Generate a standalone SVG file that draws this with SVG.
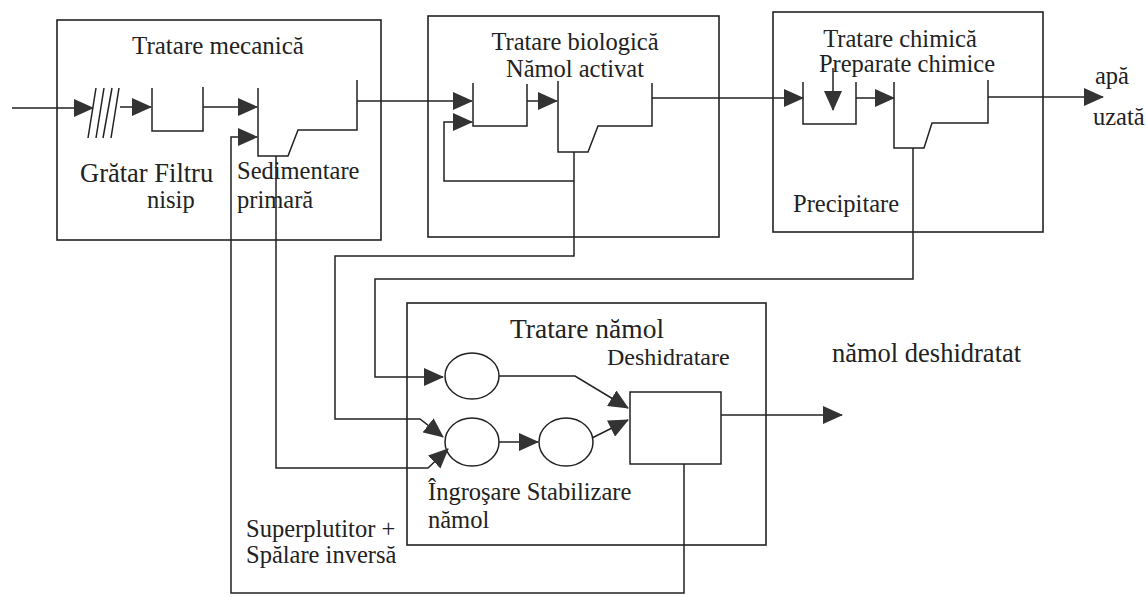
<svg xmlns="http://www.w3.org/2000/svg" width="1146" height="597" viewBox="0 0 1146 597">
<defs>
<style>
.ln{fill:none;stroke:#222;stroke-width:1.5}
.bx{fill:none;stroke:#222;stroke-width:1.6}
.t{font-family:"Liberation Serif","Times New Roman",serif;fill:#222;font-size:24.5px}
.arr{marker-end:url(#ah)}
</style>
<marker id="ah" markerUnits="userSpaceOnUse" markerWidth="20" markerHeight="18" viewBox="0 0 20 18" refX="19" refY="9" orient="auto">
<path d="M0,0 L20,9 L0,18 z" fill="#333"/>
</marker>
</defs>
<rect width="1146" height="597" fill="#fff"/>

<g id="mecanica">
<rect class="bx" x="57" y="20" width="324" height="220"/>
<text class="t" x="218" y="54" text-anchor="middle" style="font-size:25px">Tratare mecanică</text>
<g id="gratar">
<path class="ln" d="M96,88 L88,138 M104,88 L96,138 M112,88 L103,138 M119,88 L111,138"/>
</g>
<path id="filtru" class="ln" d="M152,88 V131 H203 V87"/>
<path id="sedimentare" class="ln" d="M258,88 V156 H288 L298,130 H357 V80"/>
<text class="t" x="80" y="182" style="font-size:26.5px">Grătar Filtru</text>
<text class="t" x="147" y="208">nisip</text>
<text class="t" x="237" y="179">Sedimentare</text>
<text class="t" x="237" y="208">primară</text>
</g>

<g id="biologica">
<rect class="bx" x="428" y="16" width="291" height="221"/>
<text class="t" x="575" y="50" text-anchor="middle">Tratare biologică</text>
<text class="t" x="575" y="77" text-anchor="middle">Nămol activat</text>
<path class="ln" d="M473,83 V126 H527 V84"/>
<path class="ln" d="M558,81 V152 H588 L598,126 H652 V83"/>
</g>

<g id="chimica">
<rect class="bx" x="773" y="12" width="270" height="220"/>
<text class="t" x="900" y="47" text-anchor="middle">Tratare chimică</text>
<text class="t" x="907" y="72" text-anchor="middle">Preparate chimice</text>
<path class="ln" d="M803,82 V124 H856 V82"/>
<path class="ln" d="M894,82 V148 H924 L932,123 H988 V80"/>
<text class="t" x="793" y="212">Precipitare</text>
</g>

<g id="namol">
<rect class="bx" x="407" y="303" width="359" height="242"/>
<text class="t" x="510" y="338" style="font-size:27.5px">Tratare nămol</text>
<text class="t" x="607" y="365" style="font-size:24px">Deshidratare</text>
<ellipse class="ln" cx="472" cy="376" rx="27" ry="23"/>
<ellipse class="ln" cx="472" cy="442" rx="27" ry="24"/>
<ellipse class="ln" cx="566" cy="442" rx="27" ry="24"/>
<rect class="ln" x="630" y="392" width="91" height="72"/>
<text class="t" x="428" y="500">Îngroşare Stabilizare</text>
<text class="t" x="428" y="528">nămol</text>
</g>

<g id="labels">
<text class="t" x="1095" y="84">apă</text>
<text class="t" x="1093" y="125">uzată</text>
<text class="t" x="832" y="362" style="font-size:26.5px">nămol deshidratat</text>
<text class="t" x="246" y="537">Superplutitor +</text>
<text class="t" x="246" y="563">Spălare inversă</text>
</g>

<g id="connectors">
<path class="ln arr" d="M12,108 H93"/>
<path class="ln arr" d="M120,107 H151"/>
<path class="ln arr" d="M203,107 H257"/>
<path class="ln arr" d="M357,101 H472"/>
<path class="ln arr" d="M527,101 H557"/>
<path class="ln arr" d="M652,98 H803"/>
<path class="ln arr" d="M833,68 V110"/>
<path class="ln arr" d="M856,98 H894"/>
<path class="ln arr" d="M988,97 H1103"/>
<path class="ln arr" d="M574,181 H444 V122 H472"/>
<path class="ln arr" d="M574,152 V256 H335 V419 H420 L443,437"/>
<path class="ln arr" d="M913,148 V279 H375 V377 H443"/>
<path class="ln arr" d="M276,156 V468 H428 L448,449"/>
<path class="ln arr" d="M684,464 V593 H231 V137 H257"/>
<path class="ln arr" d="M499,376 H575 L628,408"/>
<path class="ln arr" d="M499,442 H538"/>
<path class="ln arr" d="M592,438 L628,420"/>
<path class="ln arr" d="M721,415 H842"/>
</g>
</svg>
